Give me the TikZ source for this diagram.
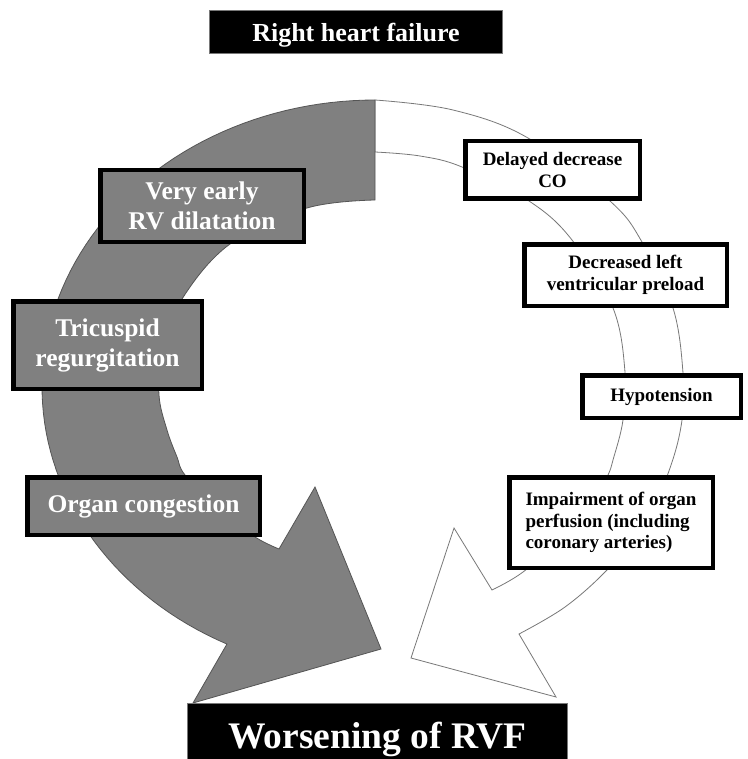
\documentclass[tikz,border=0pt]{standalone}
\usepackage{fontspec}
\setmainfont{Liberation Serif}
\definecolor{arcgray}{RGB}{128,128,128}
\definecolor{edgegray}{RGB}{85,85,85}
\definecolor{linegray}{RGB}{120,120,120}
\begin{document}
\begin{tikzpicture}[x=1pt,y=-1pt,
  graybox/.style={draw=black, line width=4.5pt, fill=arcgray, text=white,
    font=\bfseries\fontsize{25.5}{30}\selectfont, align=center, inner sep=0pt},
  whitebox/.style={draw=black, line width=4.5pt, fill=white, text=black,
    font=\bfseries\fontsize{19}{21.5}\selectfont, align=center, inner sep=0pt},
  blackbox/.style={draw=linegray, line width=1pt, fill=black, text=white, inner sep=0pt},
  whitearrow/.style={fill=white, draw=linegray, line width=0.8pt, line join=miter},
  grayarrow/.style={fill=arcgray, draw=edgegray, line width=0.8pt, line join=miter}]
\useasboundingbox (0,0) rectangle (747,759);
\fill[white] (0,0) rectangle (747,759);

% white circular arrow (right side)
\path[whitearrow]
  (375,100) -- plot[smooth, tension=0.6] coordinates {(375,100) (453,110) (528,138) (610,201) (642,242) (673,308) (683,373) (682,420) (670,468) (645,525) (607,570) (565,607) (519,634)}
  -- (556,697) -- (411,658) -- (454,528) -- (492,590)
  -- plot[smooth, tension=0.6] coordinates {(492,590) (523,572) (565,535) (595,500) (608,475) (613,460) (623,420) (625,372) (613,308) (572,240) (529,201) (462,167) (420,156) (375,152)}
  -- cycle;

% gray circular arrow (left side)
\path[grayarrow]
  (375,100) -- plot[domain=270:116.4, samples=80, variable=\t] ({375+333*cos(\t)},{387+287*sin(\t)})
  -- (193,703) -- (381,649) -- (315,487) -- (279,549)
  -- plot[smooth, tension=0.6] coordinates {(279,549) (255,537) (218,510) (185,475) (177,457) (167,430) (159,395) (162,350) (182,299) (230,244) (307,208) (375,200)}
  -- cycle;

% title
\node[blackbox, minimum width=293pt, minimum height=43pt, text height=19pt, text depth=0pt,
  font=\bfseries\fontsize{26}{30}\selectfont] (title) at (356,32) {Right heart failure};

% gray boxes
\node[graybox, minimum width=203.5pt, minimum height=71.5pt] (dilat) at (202,206) {Very early\\RV dilatation};
\node[graybox, minimum width=188.5pt, minimum height=87.5pt] (tricus) at (107.5,345) {Tricuspid\\regurgitation};
\node[graybox, minimum width=232.5pt, minimum height=57.5pt] (congest) at (143.5,506) {Organ congestion};

% white boxes
\node[whitebox, minimum width=174.5pt, minimum height=57.5pt] (delayed) at (552.5,170) {Delayed decrease\\CO};
\node[whitebox, minimum width=202.5pt, minimum height=61.5pt] (preload) at (625.5,275) {Decreased left\\ventricular preload};
\node[whitebox, minimum width=158.5pt, minimum height=42.5pt] (hypo) at (661.5,396.5) {Hypotension};
\node[whitebox, minimum width=203.5pt, minimum height=90.5pt, align=left] (perf) at (611,522.5) {Impairment of organ\\perfusion (including\\coronary arteries)};

% bottom
\node[blackbox, minimum width=380pt, minimum height=72pt,
  font=\bfseries\fontsize{37.5}{42}\selectfont] (worse) at (377.5,739) {Worsening of RVF};
\end{tikzpicture}
\end{document}
